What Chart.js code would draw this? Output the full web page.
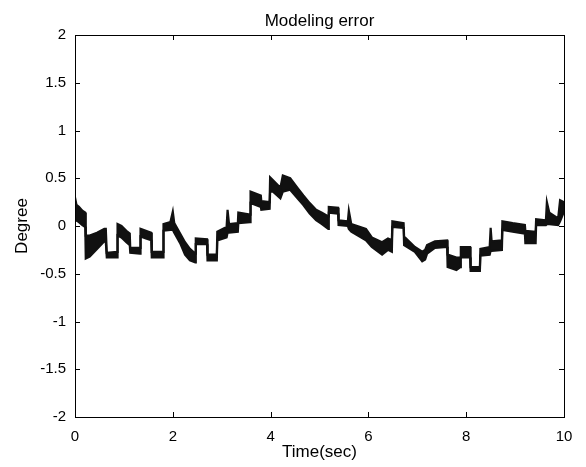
<!DOCTYPE html>
<html>
<head>
<meta charset="utf-8">
<script src="https://cdn.jsdelivr.net/npm/chart.js@4"></script>
<style>
  html, body { margin: 0; padding: 0; background: #fff; }
</style>
</head>
<body>
<canvas id="errChart" width="586" height="467"></canvas>
<script>
// time (sec) and the upper / lower edge of the noisy error band (degree)
const time = [
  0.00, 0.03, 0.08, 0.15, 0.21, 0.22, 0.30, 0.45, 0.60, 0.63,
  0.65, 0.86, 0.87, 0.95, 1.05, 1.12, 1.13, 1.33, 1.34, 1.45,
  1.56, 1.57, 1.80, 1.81, 1.95, 2.00, 2.03, 2.15, 2.25, 2.35,
  2.46, 2.47, 2.70, 2.71, 2.90, 2.91, 3.10, 3.12, 3.15, 3.33,
  3.34, 3.58, 3.59, 3.80, 3.81, 3.98, 3.99, 4.05, 4.20, 4.25,
  4.40, 4.55, 4.67, 4.80, 4.93, 5.05, 5.18, 5.19, 5.38, 5.39,
  5.58, 5.60, 5.65, 5.95, 6.07, 6.28, 6.40, 6.48, 6.49, 6.72,
  6.73, 6.95, 7.10, 7.16, 7.20, 7.36, 7.61, 7.62, 7.80, 7.88,
  7.89, 8.08, 8.09, 8.28, 8.29, 8.48, 8.50, 8.52, 8.73, 8.74,
  8.95, 9.20, 9.21, 9.42, 9.43, 9.63, 9.65, 9.70, 9.88, 9.92,
  10.00
];
const errUpper = [
  0.30, 0.22, 0.20, 0.16, 0.14, -0.10, -0.10, -0.07, -0.03, -0.03,
  -0.28, -0.27, 0.02, 0.00, -0.05, -0.08, -0.23, -0.23, -0.03, -0.05,
  -0.07, -0.27, -0.27, 0.02, 0.04, 0.15, 0.03, -0.08, -0.17, -0.24,
  -0.29, -0.13, -0.14, -0.30, -0.30, -0.06, -0.01, 0.17, 0.02, 0.03,
  0.14, 0.12, 0.36, 0.32, 0.26, 0.25, 0.51, 0.48, 0.40, 0.53,
  0.50, 0.40, 0.32, 0.24, 0.17, 0.14, 0.10, 0.20, 0.19, 0.06,
  0.05, 0.16, 0.02, -0.03, -0.12, -0.17, -0.13, -0.15, 0.05, 0.03,
  -0.11, -0.22, -0.27, -0.25, -0.20, -0.16, -0.15, -0.30, -0.33, -0.33,
  -0.22, -0.22, -0.43, -0.43, -0.24, -0.22, -0.02, -0.16, -0.15, 0.05,
  0.03, 0.01, -0.05, -0.06, 0.07, 0.06, 0.25, 0.14, 0.08, 0.27,
  0.25
];
const errLower = [
  0.05, 0.06, 0.04, 0.01, -0.01, -0.34, -0.32, -0.24, -0.16, -0.17,
  -0.33, -0.33, -0.10, -0.12, -0.17, -0.20, -0.28, -0.29, -0.11, -0.13,
  -0.15, -0.33, -0.33, -0.05, -0.04, -0.04, -0.07, -0.18, -0.30, -0.36,
  -0.38, -0.19, -0.19, -0.36, -0.36, -0.15, -0.12, -0.07, -0.07, -0.06,
  0.03, 0.04, 0.24, 0.20, 0.17, 0.18, 0.36, 0.36, 0.29, 0.36,
  0.38, 0.29, 0.22, 0.13, 0.06, 0.02, -0.03, 0.14, 0.13, 0.01,
  0.00, -0.03, -0.06, -0.15, -0.22, -0.30, -0.25, -0.27, -0.01, -0.02,
  -0.20, -0.27, -0.37, -0.35, -0.29, -0.23, -0.22, -0.43, -0.46, -0.43,
  -0.33, -0.33, -0.47, -0.47, -0.31, -0.30, -0.26, -0.26, -0.25, -0.04,
  -0.06, -0.08, -0.18, -0.18, 0.01, 0.01, 0.02, 0.02, 0.01, 0.05,
  0.15
];
const xTicks = [0, 2, 4, 6, 8, 10];
const yTicks = [-2, -1.5, -1, -0.5, 0, 0.5, 1, 1.5, 2];

Chart.defaults.font.family = 'Arial, "Liberation Sans", sans-serif';
Chart.defaults.color = '#000';

// MATLAB style box with ticks pointing inward on all four sides
const boxTicks = {
  id: 'boxTicks',
  afterDraw(chart) {
    const { ctx, chartArea: a, scales: { x, y } } = chart;
    const len = 5;
    ctx.save();
    ctx.strokeStyle = '#000';
    ctx.lineWidth = 1;
    ctx.strokeRect(Math.round(a.left) + 0.5, Math.round(a.top) + 0.5,
      Math.round(a.right - a.left), Math.round(a.bottom - a.top));
    ctx.beginPath();
    xTicks.forEach(v => {
      const px = Math.round(x.getPixelForValue(v)) + 0.5;
      ctx.moveTo(px, a.bottom); ctx.lineTo(px, a.bottom - len);
      ctx.moveTo(px, a.top); ctx.lineTo(px, a.top + len);
    });
    yTicks.forEach(v => {
      const py = Math.round(y.getPixelForValue(v)) + 0.5;
      ctx.moveTo(a.left, py); ctx.lineTo(a.left + len, py);
      ctx.moveTo(a.right, py); ctx.lineTo(a.right - len, py);
    });
    ctx.stroke();
    ctx.restore();
  }
};

const ctx = document.getElementById('errChart').getContext('2d');

new Chart(ctx, {
  type: 'line',
  data: {
    labels: time,
    datasets: [
      {
        label: 'upper',
        data: time.map((t, i) => ({ x: t, y: errUpper[i] })),
        borderColor: '#111',
        borderWidth: 2.2,
        pointRadius: 0,
        tension: 0,
        fill: false
      },
      {
        label: 'lower',
        data: time.map((t, i) => ({ x: t, y: errLower[i] })),
        borderColor: '#111',
        backgroundColor: '#111',
        borderWidth: 2.2,
        pointRadius: 0,
        tension: 0,
        fill: '-1'
      }
    ]
  },
  options: {
    responsive: false,
    animation: false,
    layout: { padding: { left: 0, right: 22, top: 0, bottom: 0 } },
    plugins: {
      legend: { display: false },
      tooltip: { enabled: false },
      title: {
        display: true,
        fullSize: false,
        text: 'Modeling error',
        color: '#000',
        font: { size: 17, weight: 'normal' },
        padding: { top: 11, bottom: 3.6 }
      }
    },
    scales: {
      x: {
        type: 'linear',
        min: 0,
        max: 10,
        grid: { display: false, drawTicks: false },
        border: { display: false },
        afterBuildTicks: s => { s.ticks = xTicks.map(v => ({ value: v })); },
        afterFit: s => { s.height = 50; },
        ticks: { padding: 11, font: { size: 15 }, maxRotation: 0, callback: v => String(v) },
        title: { display: true, text: 'Time(sec)', font: { size: 17 }, padding: { top: 0, bottom: 4 } }
      },
      y: {
        type: 'linear',
        min: -2,
        max: 2,
        grid: { display: false, drawTicks: false },
        border: { display: false },
        afterBuildTicks: s => { s.ticks = yTicks.map(v => ({ value: v })); },
        afterFit: s => { s.width = 75; },
        ticks: { padding: 9, font: { size: 15 }, callback: v => String(v) },
        title: { display: true, text: 'Degree', font: { size: 17 }, padding: { top: 12, bottom: 0 } }
      }
    }
  },
  plugins: [boxTicks]
});
</script>
</body>
</html>
